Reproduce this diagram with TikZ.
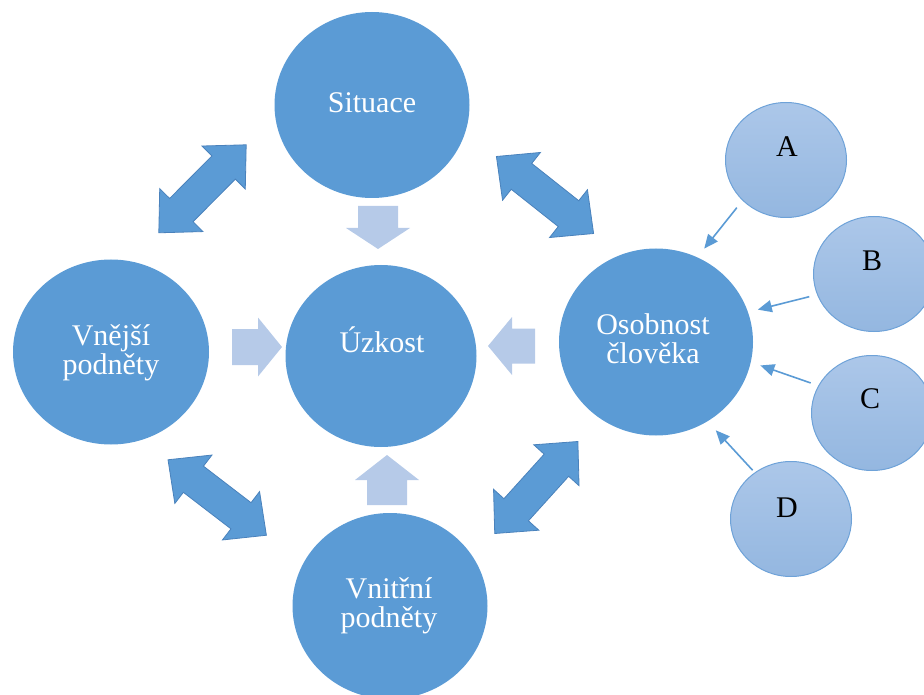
\documentclass[tikz,border=0pt]{standalone}
\usepackage{fontspec}
\setmainfont{Liberation Serif}
\usetikzlibrary{shapes.geometric,arrows.meta}
\definecolor{darkblue}{HTML}{5B9BD5}
\definecolor{edgeblue}{HTML}{4A82BC}
\definecolor{lightblue}{HTML}{B6CAE8}
\definecolor{smalltop}{HTML}{ACC7E9}
\definecolor{smallbot}{HTML}{94B7E0}
\definecolor{smalledge}{HTML}{6EA2D8}
\begin{document}
\begin{tikzpicture}[x=1pt,y=-1pt,
        big/.style={ellipse,fill=darkblue,inner sep=0pt},
        small/.style={ellipse,draw=smalledge,line width=1pt,top color=smalltop,bottom color=smallbot,inner sep=0pt,minimum width=121pt,minimum height=115pt},
        bigtxt/.style={text=white,font=\fontsize{30}{29}\selectfont,align=center,inner sep=0pt,anchor=base},
        smalltxt/.style={text=black,font=\fontsize{30}{29}\selectfont,inner sep=0pt,anchor=base},
        dblarrow/.style={fill=darkblue,draw=edgeblue,line width=0.8pt},
        blockarrow/.style={fill=lightblue},
        thinarrow/.style={draw=darkblue,line width=1.6pt,-{Triangle[length=14pt,width=12pt]}}]
        \useasboundingbox (0,0) rectangle (924,695);
        \clip (0,0) rectangle (924,695);
        \foreach \x/\y/\w/\h/\n in {372/105/195/186/situace,381/356/191/182/uzkost,111/352/196/185/vnejsi,656/342/194/187/osobnost,390/606/195/186/vnitrni}{
            \node[big,minimum width=\w pt,minimum height=\h pt] (\n) at (\x,\y) {};
        }
        \foreach \x/\y/\n in {786/160/a,874/274/b,872/413/c,791/519/d}{
            \node[small] (\n) at (\x,\y) {};
        }
        \foreach \x/\y/\n/\l in {372/113/situace/Situace,382/352/uzkost/Úzkost,111/374/vnejsi/{Vnější\\podněty},653/363/osobnost/{Osobnost\\člověka},389/627/vnitrni/{Vnitřní\\podněty}}{
            \node[bigtxt] (\n-t) at (\x,\y) {\l};
        }
        \foreach \x/\y/\n/\l in {787/157/a/A,872/270/b/B,870/408/c/C,787/517/d/D}{
            \node[smalltxt] (\n-t) at (\x,\y) {\l};
        }
        \foreach \x/\y/\a in {202.5/188.8/45.2,545/195/-38.4,217.2/497.5/-37.5,536.3/487.5/47.9}{
            \draw[dblarrow,shift={(\x,\y)},rotate=\a] (-62,0) -- (-30,-30.5) -- (-30,-16.5) -- (30,-16.5) -- (30,-30.5) -- (62,0) -- (30,30.5) -- (30,16.5) -- (-30,16.5) -- (-30,30.5) -- cycle;
        }
        \foreach \x/\y/\a/\l/\h/\s/\w in {378/206/-90/43/21/20/32,387/505/90/50/25/20/32,232/347/0/50/24/18/29.5,535/346/180/47/24/17.5/29}{
            \fill[blockarrow,shift={(\x,\y)},rotate=\a] (0,-\s) -- (\l-\h,-\s) -- (\l-\h,-\w) -- (\l,0) -- (\l-\h,\w) -- (\l-\h,\s) -- (0,\s) -- cycle;
        }
        \foreach \m/\a/\b/\p/\q in {a/223/64/9/11,b/200/18/8/10,c/153/-12/8/10,d/128/-57/3/12}{
            \draw[thinarrow,shorten <=\p pt,shorten >=\q pt] (\m.\a) -- (osobnost.\b);
        }
    \end{tikzpicture}
\end{document}
